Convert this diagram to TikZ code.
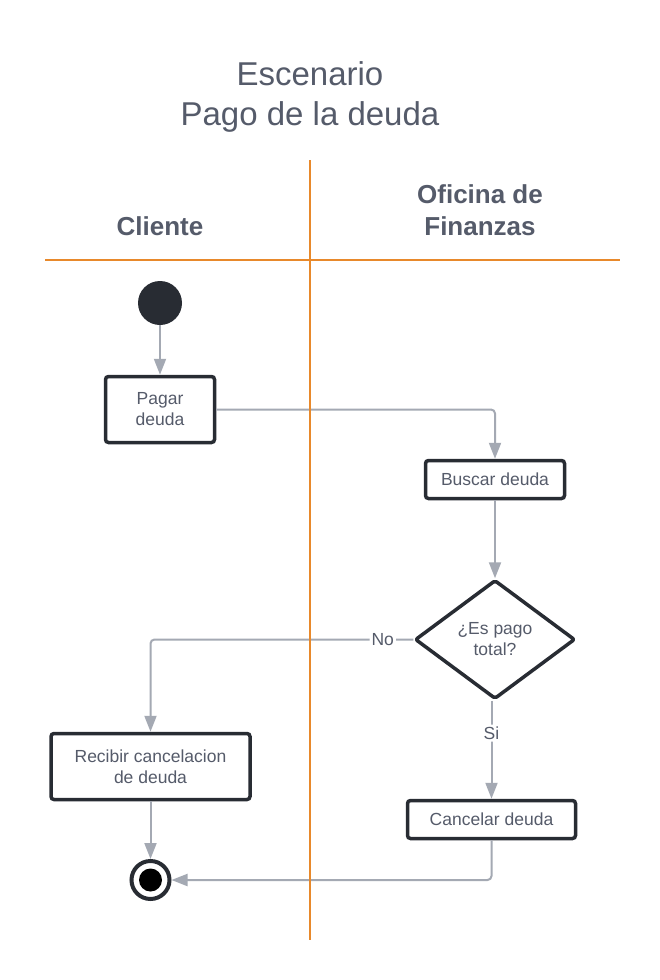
\documentclass[tikz,border=0pt]{standalone}
\usepackage{fontspec}
\setmainfont{Liberation Sans}
\usetikzlibrary{shapes.geometric,arrows.meta}
\definecolor{txt}{HTML}{555B6A}
\definecolor{dark}{HTML}{282C33}
\definecolor{flowc}{HTML}{A4A9B3}
\definecolor{lanec}{HTML}{E8892B}
\tikzset{
  act/.style={draw=dark, line width=3.5pt, rounded corners=3pt, fill=white, text=txt,
    align=center, inner sep=0pt, font=\fontsize{17.5}{21}\selectfont},
  decis/.style={draw=dark, line width=3.5pt, diamond, rounded corners=2pt, line join=round, fill=white, text=txt,
    align=center, inner sep=0pt, font=\fontsize{17.5}{21}\selectfont},
  flow/.style={draw=flowc, line width=2pt, rounded corners=4pt, -{Triangle[length=16pt,width=12pt]}},
  lbl/.style={fill=white, text=txt, inner sep=2pt, font=\fontsize{17.5}{21}\selectfont},
  lane/.style={draw=lanec, line width=2pt},
  hdr/.style={text=txt, align=center, font=\fontsize{26}{32}\selectfont\bfseries},
}
\begin{document}
\begin{tikzpicture}[x=1pt,y=-1pt]
\useasboundingbox (0,0) rectangle (660,980);
\fill[white] (0,0) rectangle (660,980);
% title
\node[text=txt, align=center, font=\fontsize{33}{40}\selectfont] (title) at (310,97) {Escenario\\Pago de la deuda};
% lane headers
\node[hdr, anchor=base] (hcli) at (160,235) {Cliente};
\node[hdr] (hofi) at (480,210) {Oficina de\\Finanzas};
% nodes
\node[circle, fill=dark, minimum size=44pt, inner sep=0pt] (start) at (160,303) {};
\node[act, minimum width=109pt, minimum height=66pt] (pagar) at (160,409.5) {Pagar\\deuda};
\node[act, minimum width=139pt, minimum height=38pt] (buscar) at (495,479.5) {Buscar deuda};
\node[decis, minimum width=160pt, minimum height=119pt] (dia) at (495,639.5) {¿Es pago\\total?};
\node[act, minimum width=199pt, minimum height=66pt] (recibir) at (150.5,766.5) {Recibir cancelacion\\de deuda};
\node[act, minimum width=168pt, minimum height=38pt] (cancelar) at (491.5,819.5) {Cancelar deuda};
\node[circle, draw=dark, line width=4pt, fill=white, minimum size=38pt, inner sep=0pt] (endn) at (150.5,880) {};
\fill[black] (endn.center) circle[radius=11.5pt];
% connectors
\draw[flow] (start) -- (pagar);
\draw[flow] (pagar.east) -| (buscar.north);
\draw[flow] (buscar) -- (dia);
\draw[flow] (dia.west) -| node[lbl, pos=0.058] {No} (recibir.north);
\draw[flow] (cancelar.north |- dia.south) -- node[lbl, pos=0.33] {Si} (cancelar.north);
\draw[flow] (recibir) -- (endn);
\draw[flow] (cancelar.south) |- (endn.east);
% lanes
\draw[lane] (310,160) -- (310,940);
\draw[lane] (45,260) -- (620,260);
\end{tikzpicture}
\end{document}
